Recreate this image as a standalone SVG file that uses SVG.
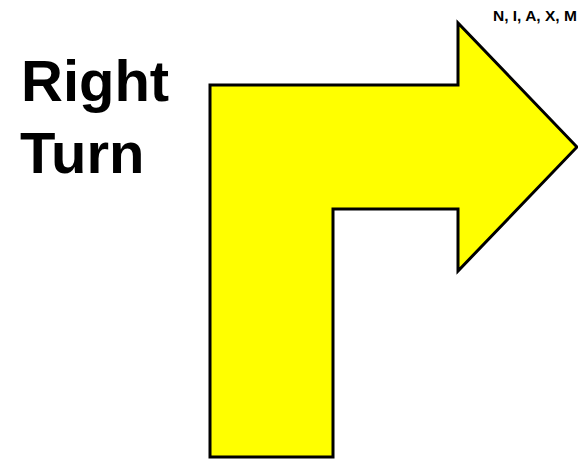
<svg xmlns="http://www.w3.org/2000/svg" width="578" height="459" viewBox="0 0 578 459">
<style>
.big{font-family:"Liberation Sans",Arial,sans-serif;font-weight:bold;font-size:58px;fill:#000}
.small{font-family:"Liberation Sans",Arial,sans-serif;font-weight:bold;font-size:15.5px;fill:#000}
</style>
<rect width="578" height="459" fill="#fff"/>
<g id="arrow">
<polygon points="210,85 458,85 458,23 577,147 458,271 458,209 333,209 333,457 210,457" fill="#ffff00" stroke="#000" stroke-width="3" stroke-linejoin="miter"/>
</g>
<g id="title">
<text class="big" x="21" y="101">Right</text>
<text class="big" x="20" y="173">Turn</text>
</g>
<g id="label">
<text class="small" x="493" y="21">N, I, A, X, M</text>
</g>
</svg>
